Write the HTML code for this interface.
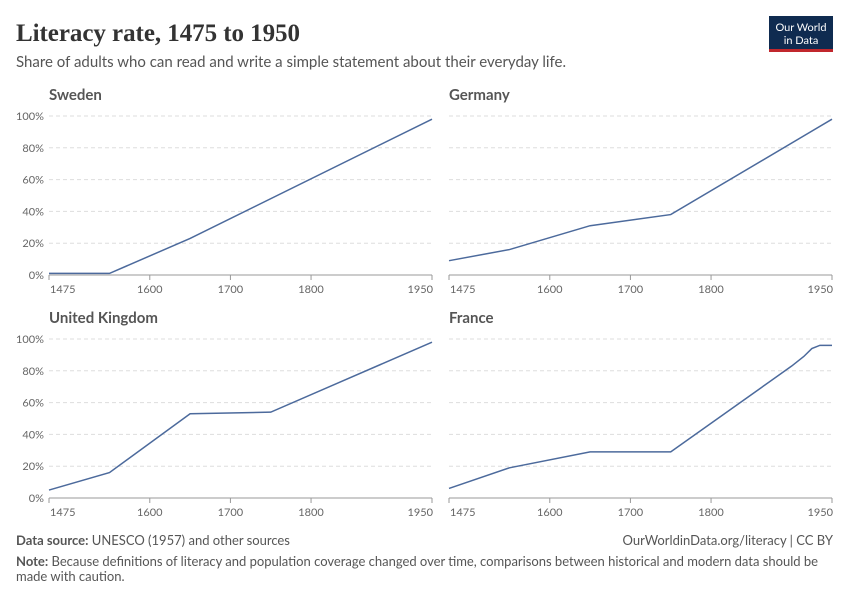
<!DOCTYPE html><html><head><style>body{margin:0;background:#fff}svg{display:block}</style></head><body>
<svg width="850" height="600" xmlns="http://www.w3.org/2000/svg" font-family="Lato,'Liberation Sans',sans-serif">
<text x="16" y="41" font-family="'Liberation Serif',serif" font-size="25" font-weight="bold" fill="#333" textLength="284">Literacy rate, 1475 to 1950</text>
<text x="16" y="67" font-size="15" fill="#555" textLength="550">Share of adults who can read and write a simple statement about their everyday life.</text>
<rect x="769" y="16" width="64" height="33" fill="#0f2b50"/><rect x="769" y="49" width="64" height="3" fill="#c1272d"/>
<text x="801" y="31" font-size="11" fill="#fff" text-anchor="middle">Our World</text>
<text x="801" y="44" font-size="11" fill="#fff" text-anchor="middle">in Data</text>
<g id="p"></g>
<text x="16" y="545" font-size="13" fill="#555"><tspan font-weight="bold">Data source:</tspan> UNESCO (1957) and other sources</text>
<text x="833" y="545" font-size="13" fill="#555" text-anchor="end">OurWorldinData.org/literacy | CC BY</text>
<text x="16" y="566" font-size="13" fill="#555" textLength="802"><tspan font-weight="bold">Note:</tspan> Because definitions of literacy and population coverage changed over time, comparisons between historical and modern data should be</text>
<text x="16" y="581" font-size="13" fill="#555">made with caution.</text>
</svg>
<script>
const P=[["Sweden",49,432,116,275,[[1475,1],[1550,1],[1650,23],[1950,98]]],
["Germany",449,832,116,275,[[1475,9],[1550,16],[1650,31],[1750,38],[1950,98]]],
["United Kingdom",49,432,339,498,[[1475,5],[1550,16],[1650,53],[1750,54],[1950,98]]],
["France",449,832,339,498,[[1475,6],[1550,19],[1650,29],[1750,29],[1900,83],[1915,89],[1925,94],[1935,96],[1950,96]]]];
let s="";
for(const [n,x0,x1,yt,yb,d] of P){
const X=y=>x0+(y-1475)/475*(x1-x0),Y=v=>yb-v/100*(yb-yt);
s+=`<text x="${x0}" y="${yt-16}" font-size="15" font-weight="bold" fill="#555">${n}</text>`;
for(let v=0;v<=100;v+=20){const y=Y(v);
s+=`<line x1="${x0}" x2="${x1}" y1="${y}" y2="${y}" stroke="${v?'#ddd':'#999'}" ${v?'stroke-dasharray="4,3"':''}/>`;
if(x0<100)s+=`<text x="${x0-5}" y="${y+4}" font-size="11" fill="#666" text-anchor="end">${v}%</text>`;}
for(const t of [1475,1600,1700,1800,1950]){const x=X(t);
s+=`<line x1="${x}" x2="${x}" y1="${yb}" y2="${yb+5}" stroke="#999"/>`;
const a=t==1475?'start':t==1950?'end':'middle';
s+=`<text x="${t==1475?x+1:t==1950?x+1:x}" y="${yb+18}" font-size="11" fill="#666" text-anchor="${a}">${t}</text>`;}
s+=`<polyline fill="none" stroke="#4c6a9c" stroke-width="1.5" points="${d.map(p=>X(p[0])+','+Y(p[1])).join(' ')}"/>`;}
document.getElementById("p").innerHTML=s;
</script></body></html>
